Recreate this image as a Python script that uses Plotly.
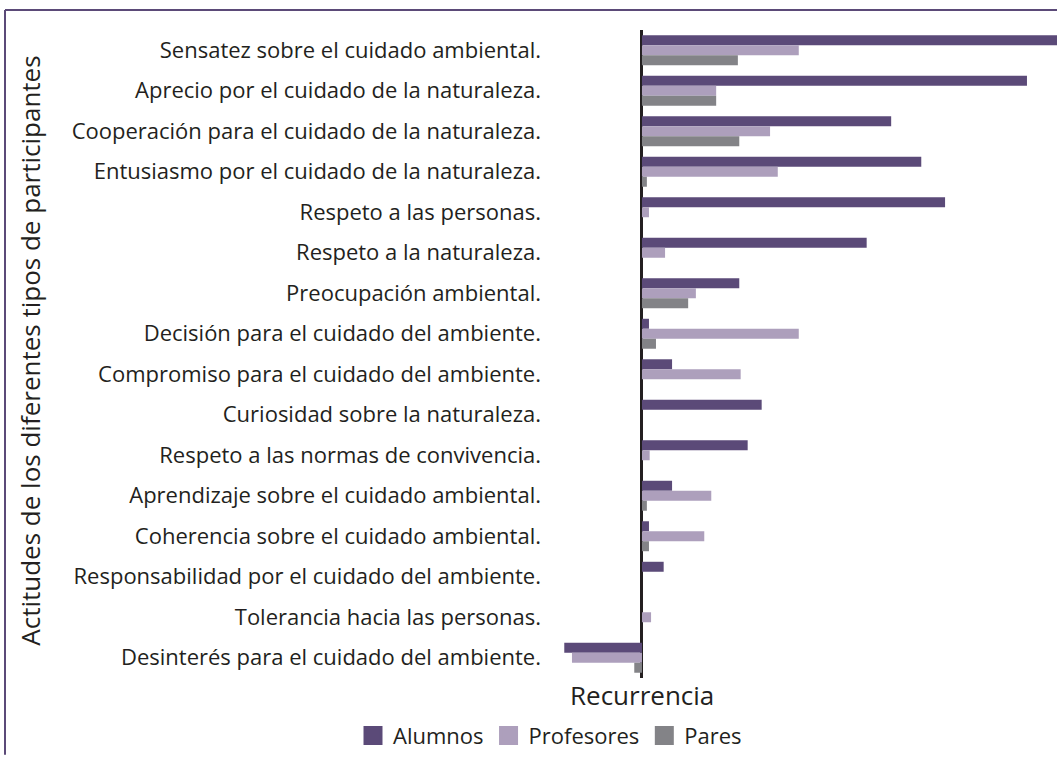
import plotly.graph_objects as go

categories = [
    "Sensatez sobre el cuidado ambiental.",
    "Aprecio por el cuidado de la naturaleza.",
    "Cooperación para el cuidado de la naturaleza.",
    "Entusiasmo por el cuidado de la naturaleza.",
    "Respeto a las personas.",
    "Respeto a la naturaleza.",
    "Preocupación ambiental.",
    "Decisión para el cuidado del ambiente.",
    "Compromiso para el cuidado del ambiente.",
    "Curiosidad sobre la naturaleza.",
    "Respeto a las normas de convivencia.",
    "Aprendizaje sobre el cuidado ambiental.",
    "Coherencia sobre el cuidado ambiental.",
    "Responsabilidad por el cuidado del ambiente.",
    "Tolerancia hacia las personas.",
    "Desinterés para el cuidado del ambiente.",
]
alumnos = [60, 55, 35.6, 39.9, 43.3, 32.1, 13.9, 1.0, 4.3, 17.1, 15.1, 4.3, 1.0, 3.1, 0, -11.1]
profesores = [22.4, 10.6, 18.3, 19.4, 1.0, 3.3, 7.7, 22.4, 14.1, 0, 1.1, 9.9, 8.9, 0, 1.3, -10.0]
pares = [13.7, 10.6, 13.9, 0.7, 0, 0, 6.6, 2.0, 0, 0, 0, 0.7, 1.0, 0, 0, -1.1]

series = [("Alumnos", alumnos, "#5b4a78"),
          ("Profesores", profesores, "#ad9fbc"),
          ("Pares", pares, "#838387")]

FONT = "Open Sans"
TXT = "#231f20"

fig = go.Figure()
for name, vals, col in series:
    fig.add_trace(go.Bar(y=categories, x=vals, name=name, orientation="h",
                         marker=dict(color=col, line=dict(width=0)),
                         showlegend=False))
for name, vals, col in series:
    fig.add_trace(go.Scatter(x=[None], y=[None], mode="markers", name=name,
                             marker=dict(symbol="square", size=16, color=col,
                                         line=dict(color=col, width=3))))

fig.update_layout(
    width=1057, height=757,
    margin=dict(l=560, r=0, t=30, b=77),
    paper_bgcolor="white", plot_bgcolor="white",
    barmode="group", bargap=0.26, bargroupgap=0,
    font=dict(family=FONT, color=TXT, size=22),
    legend=dict(orientation="h", x=(550 - 560) / 497, xanchor="center",
                y=(680 - 738) / 650, yanchor="middle",
                font=dict(size=22, family=FONT, color=TXT), itemwidth=30,
                tracegroupgap=0),
    xaxis=dict(range=[-11.71, 59.29], showticklabels=False, showgrid=False,
               zeroline=True, zerolinecolor="#231f20", zerolinewidth=2.5,
               showline=False, ticks=""),
    yaxis=dict(autorange="reversed", showgrid=False, zeroline=False, showline=False,
               ticks="", ticklabelstandoff=18,
               tickfont=dict(size=22, family=FONT, color=TXT)),
    annotations=[
        dict(text="Actitudes de los diferentes tipos de participantes", textangle=-90,
             xref="paper", yref="paper", x=(30 - 560) / 497, y=0.505,
             xanchor="center", yanchor="middle", showarrow=False,
             font=dict(size=26, family=FONT, color=TXT)),
        dict(text="Recurrencia", xref="x", yref="paper", x=0, y=-0.026,
             xanchor="center", yanchor="middle", showarrow=False,
             font=dict(size=26, family=FONT, color=TXT)),
    ],
    shapes=[
        dict(type="line", xref="paper", yref="paper",
             x0=(5 - 560) / 497, x1=1.0, y0=(680 - 10) / 650, y1=(680 - 10) / 650,
             line=dict(color="#5b4a78", width=2)),
        dict(type="line", xref="paper", yref="paper",
             x0=(5 - 560) / 497, x1=(5 - 560) / 497, y0=(680 - 10) / 650, y1=(680 - 757) / 650,
             line=dict(color="#5b4a78", width=2)),
    ],
)

fig.write_html("out.html", config={"displayModeBar": False},
               post_script="document.body.style.margin='0';")
